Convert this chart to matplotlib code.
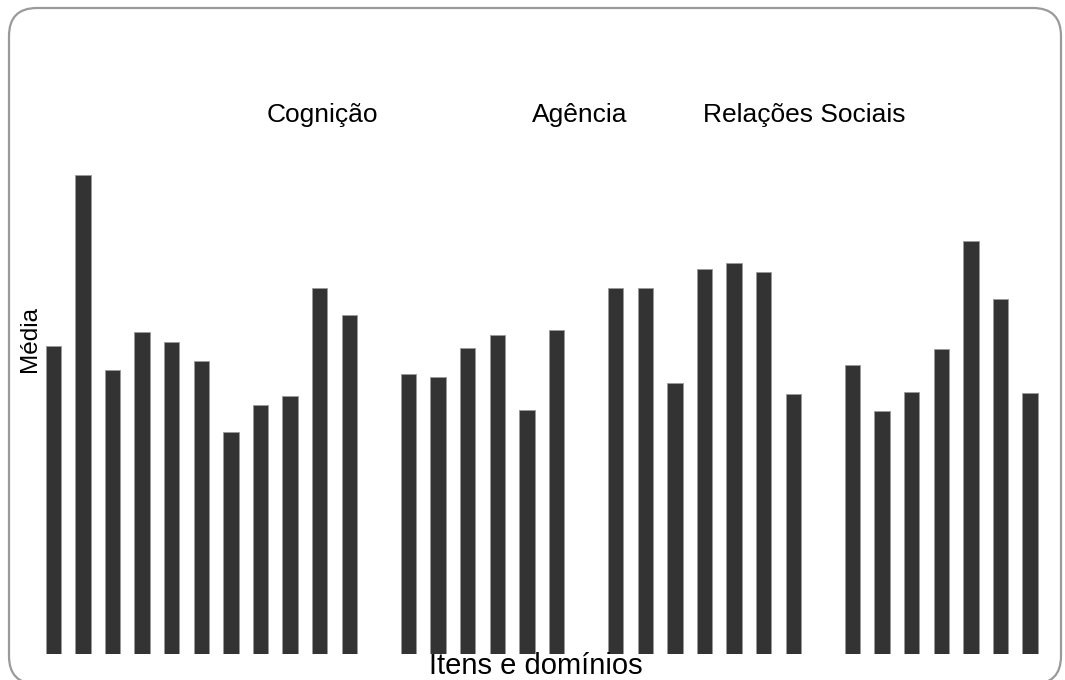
import matplotlib
matplotlib.use("Agg")
import matplotlib.pyplot as plt
from matplotlib.patches import FancyBboxPatch
import numpy as np

# Item means per domain
cognicao = [3.08, 4.79, 2.84, 3.22, 3.12, 2.93, 2.22, 2.49, 2.58, 3.66, 3.39]
agencia = [2.80, 2.77, 3.06, 3.19, 2.44, 3.24]
relacoes = [3.66, 3.66, 2.71, 3.85, 3.91, 3.82, 2.60]
quarto = [2.89, 2.43, 2.62, 3.05, 4.13, 3.55, 2.61]
groups = [cognicao, agencia, relacoes, quarto]
gaps_before = [0, 1, 1, 1]  # empty slots before each group

titles = ["Cognição", "Agência", "Relações Sociais"]
title_x = [9.08, 17.78, 25.36]

plt.rcParams['font.family'] = ['Liberation Sans', 'DejaVu Sans']

W, H = 1065, 680
fig = plt.figure(figsize=(W / 100, H / 100), dpi=100)
fig.patch.set_facecolor('white')

ax_left, ax_right = 38.5, 1044.9
ax_bottom_px, ax_top_px = 654, 104
ax = fig.add_axes([ax_left / W, (H - ax_bottom_px) / H,
                   (ax_right - ax_left) / W, (ax_bottom_px - ax_top_px) / H])

pos = []
values = []
slot = 0
for g, gap in zip(groups, gaps_before):
    slot += gap
    for v in g:
        pos.append(slot)
        values.append(v)
        slot += 1

ax.bar(pos, values, width=0.525, color='#333333', edgecolor='#9a9a9a', linewidth=0.6)
ax.set_xlim(-0.5, 33.5)
ax.set_ylim(0, 5.5)
ax.set_xticks([])
ax.set_yticks([])
for s in ax.spines.values():
    s.set_visible(False)
ax.patch.set_alpha(0)

for t, x in zip(titles, title_x):
    ax.text(x, 5.32, t, ha='center', va='baseline', fontsize=19, color='black')

ax.set_ylabel("Média", fontsize=17.5)
ax.yaxis.label.set_ha('center')
ax.yaxis.label.set_va('center')
ax.yaxis.set_label_coords((29.5 - ax_left) / (ax_right - ax_left), (654 - 339) / 550)

ax.set_xlabel("Itens e domínios", fontsize=21)
ax.xaxis.label.set_va('baseline')
ax.xaxis.set_label_coords((535.8 - ax_left) / (ax_right - ax_left), (654 - 674) / 550)

# rounded frame (display pixel coordinates, origin bottom-left)
frame = FancyBboxPatch((9, -4), 1052, H - 7 + 4 - 1, boxstyle="round,pad=0,rounding_size=28",
                       transform=None, facecolor='none', edgecolor='#9a9a9a', linewidth=1.6)
fig.add_artist(frame)

fig.savefig("out.png", dpi=100)
